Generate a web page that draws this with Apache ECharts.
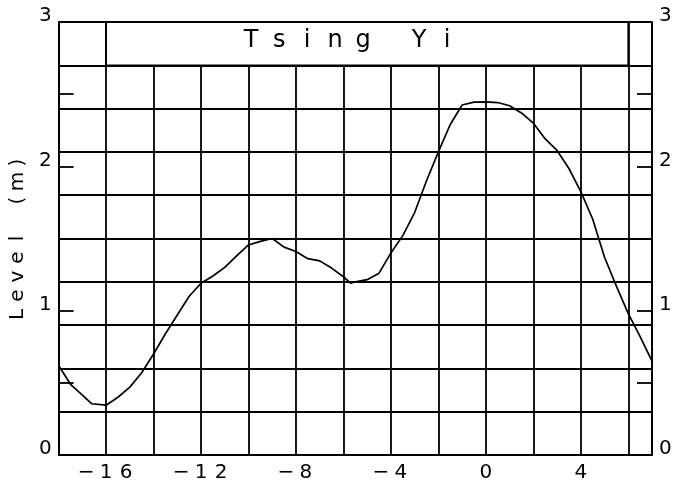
<!DOCTYPE html>
<html>
<head>
<meta charset="utf-8">
<script src="https://cdn.jsdelivr.net/npm/echarts@6/dist/echarts.min.js"></script>
<style>
  html, body { margin: 0; padding: 0; background: #fff; }
  #chart { width: 691px; height: 490px; }
</style>
</head>
<body>
<div id="chart"></div>
<script>
// Tide level at Tsing Yi (m) against time (hours)
const hours = [
  -18, -17.5, -17, -16.6, -16, -15.5, -15, -14.5, -14, -13.5, -13, -12.5, -12, -11.5,
  -11, -10.5, -10, -9.5, -9, -8.5, -8, -7.5, -7, -6.5, -6, -5.7, -5.5, -5, -4.5,
  -4, -3.5, -3, -2.5, -2, -1.5, -1, -0.5, 0, 0.5, 1, 1.5, 2, 2.5, 3, 3.5, 4,
  4.5, 5, 5.5, 6, 6.5, 7
];
const levels = [
  0.62, 0.49, 0.415, 0.355, 0.345, 0.40, 0.47, 0.57, 0.70, 0.84, 0.97, 1.10, 1.19, 1.24,
  1.30, 1.38, 1.455, 1.48, 1.50, 1.44, 1.41, 1.36, 1.345, 1.295, 1.235, 1.19, 1.20, 1.215, 1.26,
  1.40, 1.52, 1.68, 1.90, 2.10, 2.29, 2.425, 2.445, 2.447, 2.442, 2.42, 2.37, 2.30, 2.19, 2.11, 1.985, 1.825,
  1.635, 1.37, 1.17, 0.98, 0.82, 0.65
];

const xTickLabels = [-16, -12, -8, -4, 0, 4];
const yTickLabels = [0, 1, 2, 3];
const titleText = 'Tsing Yi';
const yAxisTitle = 'Level (m)';
// band at the top of the frame that holds the station name
const titleBandX = [-16, 6];
const titleBandY = [2.7, 3];

const INK = '#000';
const FONT = 'DejaVu Sans';
const GRID_W = 1.8;

// spread text out into fixed-width character cells (plotter-style lettering)
function spaced(str) {
  return str.split('').map(ch => '{c|' + ch + '}').join('');
}
function cellStyle(width, size) {
  return { c: { width: width, align: 'center', fontSize: size, fontFamily: FONT, color: INK } };
}
function signed(v) {
  return v < 0 ? '\u2212' + Math.abs(v) : String(v);
}

const chart = echarts.init(document.getElementById('chart'), null, { renderer: 'canvas' });

const yAxisBase = {
  type: 'value', min: 0, max: 3, interval: 0.5,
  axisLine: { show: true, onZero: false, lineStyle: { color: INK, width: GRID_W } },
  axisTick: { show: true, inside: true, length: 15, lineStyle: { color: INK, width: GRID_W } },
  splitLine: { show: false },
  axisLabel: {
    fontSize: 20, fontFamily: FONT, color: INK, verticalAlign: 'bottom', lineHeight: 12,
    formatter: v => (yTickLabels.indexOf(v) >= 0 ? String(v) : '')
  }
};

chart.setOption({
  animation: false,
  backgroundColor: '#fff',
  grid: { left: 56, right: 39, top: 22, bottom: 35, containLabel: false },
  xAxis: {
    type: 'value', min: -18, max: 7, interval: 2,
    axisLine: { show: true, onZero: false, lineStyle: { color: INK, width: GRID_W } },
    axisTick: { show: false },
    splitLine: { show: true, lineStyle: { color: INK, width: GRID_W } },
    axisLabel: {
      margin: 8,
      formatter: v => (xTickLabels.indexOf(v) >= 0 ? spaced(signed(v)) : ''),
      rich: cellStyle(20, 20)
    }
  },
  yAxis: [
    Object.assign({}, yAxisBase, {
      position: 'left',
      axisLabel: Object.assign({}, yAxisBase.axisLabel, { margin: 7 }),
      name: spaced(yAxisTitle),
      nameLocation: 'middle',
      nameGap: 28,
      nameTextStyle: { rich: cellStyle(19, 20) }
    }),
    Object.assign({}, yAxisBase, {
      position: 'right',
      axisLabel: Object.assign({}, yAxisBase.axisLabel, { margin: 7 })
    }),
    {
      type: 'value', min: 0, max: 3, interval: 0.3, position: 'left',
      axisLine: { show: false, onZero: false }, axisTick: { show: false }, axisLabel: { show: false },
      splitLine: { show: true, lineStyle: { color: INK, width: GRID_W } }
    }
  ],
  series: [{
    type: 'line',
    xAxisIndex: 0,
    yAxisIndex: 0,
    data: hours.map((h, i) => [h, levels[i]]),
    showSymbol: false,
    smooth: false,
    lineStyle: { color: INK, width: 1.7 },
    markArea: {
      silent: true,
      itemStyle: { color: '#fff', borderColor: INK, borderWidth: GRID_W },
      label: {
        show: true, position: 'inside', offset: [-18, -3],
        formatter: spaced(titleText),
        rich: cellStyle(28, 24)
      },
      data: [[
        { coord: [titleBandX[0], titleBandY[0]] },
        { coord: [titleBandX[1], titleBandY[1]] }
      ]]
    }
  }]
});
</script>
</body>
</html>
